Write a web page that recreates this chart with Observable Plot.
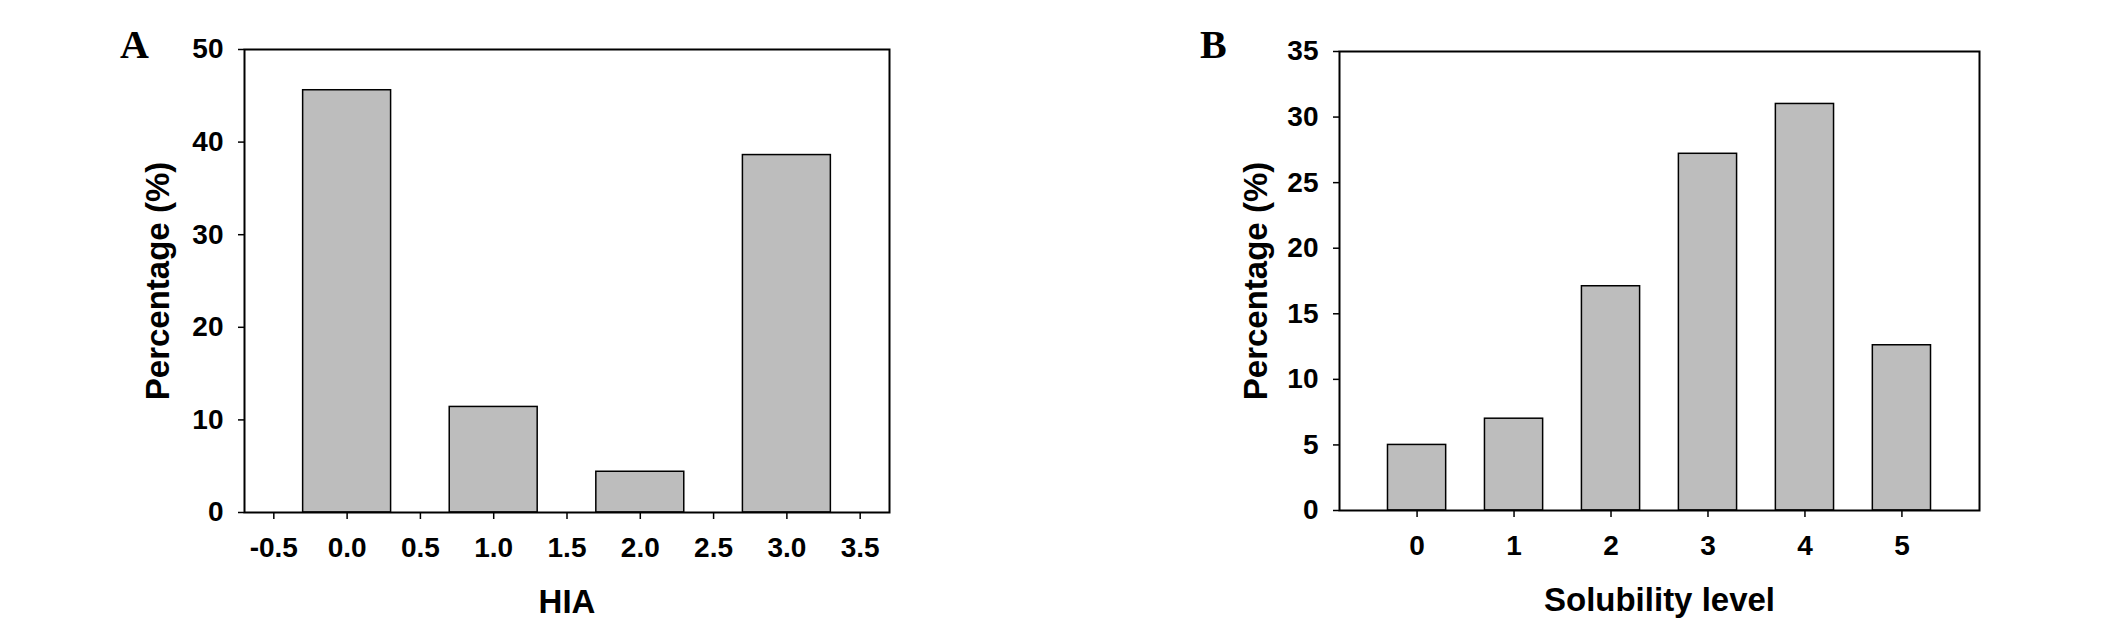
<!DOCTYPE html>
<html><head><meta charset="utf-8">
<script src="https://cdn.jsdelivr.net/npm/d3@7"></script>
<script src="https://cdn.jsdelivr.net/npm/@observablehq/plot@0.6"></script>
<style>
html,body{margin:0;padding:0;background:#fff;}
body{width:2126px;height:621px;position:relative;overflow:hidden;}
.panel{position:absolute;top:0;z-index:1;}
.tag{position:absolute;z-index:2;font-family:"Liberation Serif","Times New Roman",serif;font-weight:bold;font-size:40px;line-height:1;color:#000;}
svg g[aria-label="y-axis label"] text, svg g[aria-label="x-axis label"] text{font-size:33px;}
</style>
</head><body>
<div id="pa" class="panel" style="left:0px;"></div>
<div id="pb" class="panel" style="left:1063px;"></div>
<div class="tag" style="left:120px;top:25px;">A</div>
<div class="tag" style="left:1200px;top:25px;">B</div>
<script>
// Panel A: HIA distribution
const hiaLevels = [0, 1, 2, 3];
const hiaPercent = [45.6, 11.4, 4.4, 38.6];
const hiaTicks = [-0.5, 0, 0.5, 1, 1.5, 2, 2.5, 3, 3.5];
const hiaYTicks = [0, 10, 20, 30, 40, 50];

// Panel B: Solubility distribution
const solLevels = [0, 1, 2, 3, 4, 5];
const solPercent = [5.0, 7.0, 17.1, 27.2, 31.0, 12.6];
const solTicks = [0, 1, 2, 3, 4, 5];
const solYTicks = [0, 5, 10, 15, 20, 25, 30, 35];

const halfBar = 0.3;
const barFill = "#bdbdbd";

const baseStyle = {
  fontFamily: '"Liberation Sans", Arial, sans-serif',
  fontSize: "28px", fontWeight: "bold", color: "#000", background: "#fff", overflow: "visible"
};

function panel({levels, values, xDomain, xTicks, xFmt, yDomain, yTicks, xLabel, width, mL, mR, mT, mB, yLabelOffset}) {
  const data = levels.map((l, i) => ({level: l, pct: values[i]}));
  return Plot.plot({
    width, height: 621,
    marginLeft: mL, marginRight: mR, marginTop: mT, marginBottom: mB,
    style: baseStyle,
    x: {domain: xDomain},
    y: {domain: yDomain},
    marks: [
      Plot.rectY(data, {x1: d => d.level - halfBar, x2: d => d.level + halfBar, y1: 0, y2: "pct",
        fill: barFill, stroke: "#000", strokeWidth: 1.5}),
      Plot.frame({stroke: "#000", strokeWidth: 2}),
      Plot.axisY({ticks: yTicks, tickSize: 6, tickPadding: 15, tickFormat: d => String(d),
        fontSize: 28, fontWeight: "bold",
        label: "Percentage (%)", labelAnchor: "center", labelArrow: "none",
        labelOffset: yLabelOffset, strokeWidth: 1.5}),
      Plot.axisX({ticks: xTicks, tickSize: 7, tickPadding: 18, tickFormat: xFmt,
        fontSize: 28, fontWeight: "bold",
        label: xLabel, labelAnchor: "center", labelArrow: "none",
        labelOffset: 100, strokeWidth: 1.5})
    ]
  });
}

document.getElementById("pa").append(panel({
  levels: hiaLevels, values: hiaPercent,
  xDomain: [-0.7, 3.7], xTicks: hiaTicks, xFmt: d => d.toFixed(1),
  yDomain: [0, 50], yTicks: hiaYTicks, xLabel: "HIA",
  width: 1000, mL: 244, mR: 111, mT: 49, mB: 109, yLabelOffset: 99
}));

document.getElementById("pb").append(panel({
  levels: solLevels, values: solPercent,
  xDomain: [-0.8, 5.8], xTicks: solTicks, xFmt: d => String(d),
  yDomain: [0, 35], yTicks: solYTicks, xLabel: "Solubility level",
  width: 1063, mL: 276, mR: 147, mT: 51, mB: 111, yLabelOffset: 96
}));
</script>
</body></html>
